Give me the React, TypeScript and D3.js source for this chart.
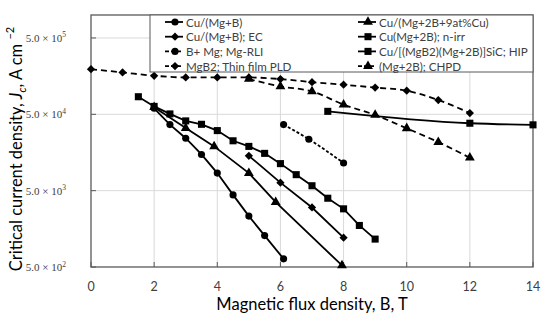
import React from 'react';
import * as d3 from 'd3';

// values (B in T, Jc in A/cm^2)
const cuMgB_B = [2, 2.5, 3, 3.5, 4, 4.5, 5, 5.5, 6.1];
const cuMgB_Jc = [60000, 36700, 24300, 14900, 8500, 4400, 2320, 1290, 640];

const cuMgBEC_B = [5, 6, 7, 8];
const cuMgBEC_Jc = [14300, 6370, 3010, 1210];

const rli_B = [6.1, 6.9, 8];
const rli_Jc = [36700, 23600, 11500];

const pld_B = [0, 1, 2, 3, 4, 5, 6, 7, 8, 9, 10, 11, 12];
const pld_Jc = [195000, 177000, 160000, 152000, 152000, 152000, 145000, 132000, 122000, 112000, 102000, 77000, 52000];

const cu9_B = [2, 3, 3.9, 5, 5.85, 7.95];
const cu9_Jc = [62000, 33000, 19000, 8500, 3530, 524];

const nirr_B = [1.5, 2, 2.5, 3, 3.5, 4, 4.5, 5, 5.5, 6, 6.5, 7, 7.5, 8, 8.5, 9];
const nirr_Jc = [85000, 63500, 50600, 41000, 37000, 30600, 22500, 19000, 15400, 11300, 8100, 5800, 3980, 2890, 1750, 1160];

const sic_B = [7.5, 12, 14];
const sic_Jc = [54700, 38200, 36400];

const chpd_B = [5, 6, 7, 8, 9, 10, 11, 12];
const chpd_Jc = [145000, 116000, 100000, 67000, 49000, 32800, 21600, 13500];

const xTicks = [0, 2, 4, 6, 8, 10, 12, 14];
const yTicks = [500, 5000, 50000, 500000];
const yTickExp = ['2', '3', '4', '5'];

type Series = {
  name: string;
  xs: number[];
  ys: number[];
  marker: 'circle' | 'square' | 'diamond' | 'triangle';
  dash?: string;
  smooth?: boolean;
};

const series: Series[] = [
  { name: 'Cu/(Mg+B)', xs: cuMgB_B, ys: cuMgB_Jc, marker: 'circle' },
  { name: 'Cu/(Mg+B); EC', xs: cuMgBEC_B, ys: cuMgBEC_Jc, marker: 'diamond' },
  { name: 'B+ Mg; Mg-RLI', xs: rli_B, ys: rli_Jc, marker: 'circle', dash: '3,2', smooth: true },
  { name: 'MgB2; Thin film PLD', xs: pld_B, ys: pld_Jc, marker: 'diamond', dash: '6,4', smooth: true },
  { name: 'Cu/(Mg+2B+9at%Cu)', xs: cu9_B, ys: cu9_Jc, marker: 'triangle' },
  { name: 'Cu(Mg+2B); n-irr', xs: nirr_B, ys: nirr_Jc, marker: 'square' },
  { name: 'Cu/[(MgB2)(Mg+2B)]SiC; HIP', xs: sic_B, ys: sic_Jc, marker: 'square', smooth: true },
  { name: '(Mg+2B); CHPD', xs: chpd_B, ys: chpd_Jc, marker: 'triangle', dash: '6,4', smooth: true },
];

const W = 550;
const H = 323;
const L = 91, R = 533, T = 15, B = 267;

const x = d3.scaleLinear().domain([0, 14]).range([L, R]);
const y = d3.scaleLog().domain([500, 1e6]).range([B, T]);

const symbols = {
  circle: d3.symbol(d3.symbolCircle, 40)(),
  square: d3.symbol(d3.symbolSquare, 50)(),
  diamond: d3.symbol(d3.symbolSquare, 34)(),
  triangle: d3.symbol(d3.symbolTriangle, 42)(),
};

function Marker({ kind, cx, cy }: { kind: Series['marker']; cx: number; cy: number }) {
  const rot = kind === 'diamond' ? ' rotate(45)' : '';
  return <path d={symbols[kind] || ''} transform={`translate(${cx},${cy})${rot}`} fill="#000" />;
}

export default function App() {
  const sans = 'Lato, "Open Sans", sans-serif';
  return (
    <svg width={W} height={H} style={{ position: 'absolute', left: 0, top: 0, background: '#fff' }}>
      {/* grid */}
      {xTicks.filter(t => t > 0 && t < 14).map(t => (
        <line key={'gx' + t} x1={x(t)} x2={x(t)} y1={T} y2={B} stroke="#d9d9d9" strokeWidth={1} />
      ))}
      {yTicks.filter(t => t > 500).map(t => (
        <line key={'gy' + t} x1={L} x2={R} y1={y(t)} y2={y(t)} stroke="#d9d9d9" strokeWidth={1} />
      ))}
      <rect x={L} y={T} width={R - L} height={B - T} fill="none" stroke="#595959" strokeWidth={1.3} />
      {xTicks.map(t => (
        <line key={'tx' + t} x1={x(t)} x2={x(t)} y1={B} y2={B - 5} stroke="#595959" />
      ))}
      {yTicks.map(t => (
        <line key={'ty' + t} x1={L} x2={L + 5} y1={y(t)} y2={y(t)} stroke="#595959" />
      ))}

      {/* series */}
      {series.map(s => {
        const pts = s.xs.map((v, i) => [x(v), y(s.ys[i])] as [number, number]);
        const line = d3.line().curve(s.smooth ? d3.curveMonotoneX : d3.curveLinear)(pts) || '';
        return (
          <g key={s.name}>
            <path d={line} fill="none" stroke="#000" strokeWidth={1.8} strokeDasharray={s.dash} />
            {pts.map((p, i) => <Marker key={i} kind={s.marker} cx={p[0]} cy={p[1]} />)}
          </g>
        );
      })}

      {/* legend */}
      <rect x={150} y={T} width={R - 150} height={57} fill="#fff" stroke="#595959" strokeWidth={1} />
      {series.map((s, i) => {
        const col = Math.floor(i / 4);
        const row = i % 4;
        const lx = col === 0 ? 165 : 358;
        const ly = 22 + row * 14.7;
        return (
          <g key={'lg' + s.name}>
            <line x1={lx} x2={lx + 18} y1={ly} y2={ly} stroke="#000" strokeWidth={1.8} strokeDasharray={s.dash ? '4,2' : undefined} />
            <Marker kind={s.marker} cx={lx + 10} cy={ly} />
            <text x={lx + 21} y={ly + 4.5} fontFamily={sans} fontSize={11.6} fill="#404040">{s.name}</text>
          </g>
        );
      })}

      {/* x tick labels */}
      {xTicks.map(t => (
        <text key={'xl' + t} x={x(t)} y={291} textAnchor="middle" fontFamily={sans} fontSize={12.5} fill="#404040">{t}</text>
      ))}
      {/* y tick labels */}
      {yTicks.map((t, i) => (
        <text key={'yl' + t} x={66} y={y(t) + 4} textAnchor="end" fontFamily='"Liberation Serif", serif' fontSize={11} fill="#404040">
          5.0 × 10<tspan dy={-4.5} fontSize={7.5}>{yTickExp[i]}</tspan>
        </text>
      ))}

      {/* axis titles */}
      <text x={(L + R) / 2} y={310} textAnchor="middle" fontFamily={sans} fontSize={16.5} fill="#000">
        Magnetic flux density, B, T
      </text>
      <text transform={`translate(22,${(T + B) / 2 + 8}) rotate(-90)`} textAnchor="middle" fontFamily={sans} fontSize={16.5} fill="#000">
        Critical current density, <tspan fontStyle="italic">J</tspan><tspan fontStyle="italic" fontSize={11} dy={4}>c</tspan><tspan dy={-4}>, A cm </tspan><tspan fontSize={11} dy={-8}>−2</tspan>
      </text>
    </svg>
  );
}
